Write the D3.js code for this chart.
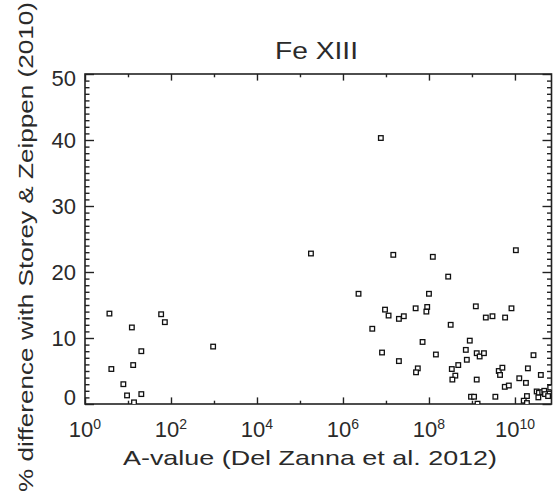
<!DOCTYPE html>
<html><head><meta charset="utf-8">
<script src="https://cdn.jsdelivr.net/npm/d3@7"></script>
<style>body{margin:0;background:#fff}svg{display:block}text{font-family:"Liberation Sans",Arial,sans-serif;fill:#2a2a2a}</style>
</head><body><div id="chart"></div>
<script>
const titleText = "Fe XIII";
const xTitle = "A-value (Del Zanna et al. 2012)";
const yTitle = "% difference with Storey & Zeippen (2010)";
const xMajorExp = [0, 2, 4, 6, 8, 10];
const xMinorExp = [1, 3, 5, 7, 9];
const yMajor = [0, 10, 20, 30, 40, 50];
const aValues = [3.7, 59, 72, 12.3, 955, 20.4, 4.1, 13.2, 7.8, 9.5, 20.4, 13.8,
  1.8e5, 7.6e6, 1.48e7, 1.23e8, 1.05e10, 2.8e8, 2.3e6, 1.0e8, 9.5e6, 1.15e7, 4.9e7, 9.1e7,
  8.7e7, 2.0e7, 2.6e7, 4.8e6, 7.1e7, 8.1e6, 1.45e8, 2.0e7, 5.5e7, 5.0e7,
  1.23e9, 2.1e9, 3.0e9, 5.9e9, 8.3e9, 3.2e8, 8.9e8, 7.2e8, 1.29e9, 1.51e9, 1.9e9, 7.6e8,
  2.7e10, 4.8e8, 3.4e8, 4.1e8, 3.5e8, 1.29e9, 4.2e9, 5.1e9, 4.5e9, 5.8e9, 7.2e9,
  2.0e10, 1.26e10, 1.8e10, 4.0e10, 9.5e8, 1.12e9, 1.35e9, 3.5e9, 1.9e10, 1.6e10, 1.9e10,
  3.2e10, 3.6e10, 4.3e10, 4.8e10, 3.5e10, 5.0e10, 5.9e10, 6.6e10];
const pctDiff = [13.7, 13.6, 12.4, 11.6, 8.7, 8.0, 5.3, 5.9, 3.0, 1.3, 1.5, 0.25,
  22.8, 40.3, 22.6, 22.3, 23.3, 19.3, 16.7, 16.7, 14.3, 13.4, 14.5, 14.7,
  14.0, 12.9, 13.3, 11.4, 9.4, 7.8, 7.5, 6.5, 5.4, 4.8,
  14.8, 13.1, 13.3, 13.1, 14.5, 12.0, 9.6, 8.2, 7.7, 7.2, 7.7, 6.7,
  7.4, 5.9, 5.3, 4.3, 3.7, 3.7, 5.0, 5.5, 4.4, 2.6, 2.8,
  5.4, 3.9, 3.2, 4.4, 1.1, 1.1, 0.05, 1.1, 1.2, 0.5, 0.15,
  1.9, 1.7, 1.8, 2.0, 1.0, 1.5, 1.2, 2.5];

const W = 554, H = 497;
const L = 85, R = 551.5, T = 74, B = 404;
const svg = d3.select("#chart").append("svg").attr("width", W).attr("height", H);
const x = d3.scaleLog().domain([1, Math.pow(10, 10.85)]).range([L, R]);
const y = d3.scaleLinear().domain([0, 50]).range([B, T]);
const yMinor = d3.range(1, 50).filter(v => v % 10 !== 0);
const axisColor = "#222";

function styleAxis(g) {
  g.select(".domain").remove();
  g.selectAll("line").attr("stroke", axisColor).attr("stroke-width", 1.4);
  g.selectAll("text").remove();
}
svg.append("g").attr("transform", `translate(0,${B})`)
  .call(d3.axisBottom(x).tickValues(xMajorExp.map(e => Math.pow(10, e))).tickSize(-6.6)).call(styleAxis);
svg.append("g").attr("transform", `translate(0,${B})`)
  .call(d3.axisBottom(x).tickValues(xMinorExp.map(e => Math.pow(10, e))).tickSize(-3.3)).call(styleAxis);
svg.append("g").attr("transform", `translate(0,${T})`)
  .call(d3.axisTop(x).tickValues(xMajorExp.map(e => Math.pow(10, e))).tickSize(-6.6)).call(styleAxis);
svg.append("g").attr("transform", `translate(0,${T})`)
  .call(d3.axisTop(x).tickValues(xMinorExp.map(e => Math.pow(10, e))).tickSize(-3.3)).call(styleAxis);
svg.append("g").attr("transform", `translate(${L},0)`)
  .call(d3.axisLeft(y).tickValues(yMajor).tickSize(-9)).call(styleAxis);
svg.append("g").attr("transform", `translate(${L},0)`)
  .call(d3.axisLeft(y).tickValues(yMinor).tickSize(-4.5)).call(styleAxis);
svg.append("g").attr("transform", `translate(${R},0)`)
  .call(d3.axisRight(y).tickValues(yMajor).tickSize(-9)).call(styleAxis);
svg.append("g").attr("transform", `translate(${R},0)`)
  .call(d3.axisRight(y).tickValues(yMinor).tickSize(-4.5)).call(styleAxis);

svg.append("rect").attr("x", L).attr("y", T).attr("width", R - L).attr("height", B - T)
  .attr("fill", "none").attr("stroke", axisColor).attr("stroke-width", 1.6);

xMajorExp.forEach(e => {
  const t = svg.append("text").attr("x", x(Math.pow(10, e))).attr("y", 437)
    .attr("text-anchor", "middle").style("font-size", "22px");
  t.append("tspan").text("10");
  t.append("tspan").text(e).attr("dy", -8).style("font-size", "14px");
});
yMajor.forEach(v => {
  const cy = Math.min(Math.max(y(v), T + 4), B - 7);
  svg.append("text").attr("x", 76).attr("y", cy).attr("dy", "0.36em")
    .attr("text-anchor", "end").style("font-size", "22px").text(v);
});

svg.append("text").attr("x", 316.5).attr("y", 59.3).attr("text-anchor", "middle")
  .style("font-size", "24px").attr("textLength", 83).attr("lengthAdjust", "spacingAndGlyphs").text(titleText);
svg.append("text").attr("x", 310).attr("y", 465).attr("text-anchor", "middle")
  .style("font-size", "21px").attr("textLength", 374).attr("lengthAdjust", "spacingAndGlyphs").text(xTitle);
svg.append("text").attr("transform", "translate(33,247) rotate(-90)").attr("text-anchor", "middle")
  .style("font-size", "21px").attr("textLength", 490).attr("lengthAdjust", "spacingAndGlyphs").text(yTitle);

svg.append("clipPath").attr("id", "clip").append("rect")
  .attr("x", L).attr("y", T).attr("width", R - L).attr("height", B - T);
const pts = aValues.map((a, i) => ({a, p: pctDiff[i]}));
svg.append("g").attr("clip-path", "url(#clip)").selectAll("rect").data(pts).join("rect")
  .attr("x", d => x(d.a) - 2.3).attr("y", d => y(d.p) - 2.3)
  .attr("width", 4.6).attr("height", 4.6)
  .attr("fill", "#fff").attr("stroke", "#111").attr("stroke-width", 1.3);
</script></body></html>
